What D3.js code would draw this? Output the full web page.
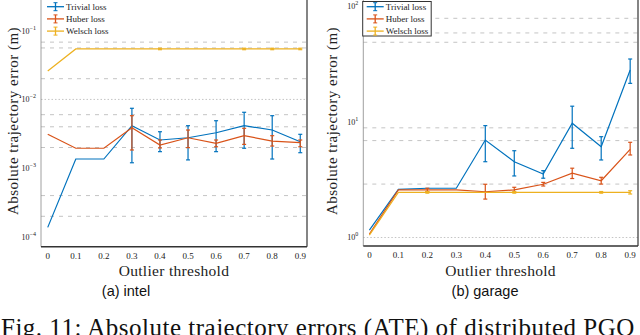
<!DOCTYPE html>
<html>
<head>
<meta charset="utf-8">
<script src="https://cdn.jsdelivr.net/npm/d3@7"></script>
<style>
  body { margin: 0; background: #fff; }
  svg { display: block; }
</style>
</head>
<body>
<svg id="chart" width="640" height="335"></svg>
<script>
// outlier thresholds on the x axis
var thresholds = [0, 0.1, 0.2, 0.3, 0.4, 0.5, 0.6, 0.7, 0.8, 0.9];
var xTickLabels = ["0", "0.1", "0.2", "0.3", "0.4", "0.5", "0.6", "0.7", "0.8", "0.9"];
var seriesNames = ["Trivial loss", "Huber loss", "Welsch loss"];
var seriesColors = ["#0072BD", "#D95319", "#EDB120"];

var SERIF = '"Liberation Serif", "DejaVu Serif", "Times New Roman", serif';

// (a) intel  -- mean, upper, lower (null = no error bar)
var intelTrivial   = [1.38e-4, 1.36e-3, 1.36e-3, 4.15e-3, 2.57e-3, 2.77e-3, 3.28e-3, 4.15e-3, 3.59e-3, 2.43e-3];
var intelTrivialHi = [null, null, null, 7.43e-3, 3.39e-3, 4.15e-3, 4.9e-3, 6.5e-3, 5.8e-3, 3.11e-3];
var intelTrivialLo = [null, null, null, 1.2e-3, 1.74e-3, 1.32e-3, 1.74e-3, 1.95e-3, 1.36e-3, 1.68e-3];
var intelHuber     = [3.11e-3, 1.95e-3, 1.95e-3, 3.88e-3, 2.17e-3, 2.77e-3, 2.3e-3, 2.97e-3, 2.48e-3, 2.35e-3];
var intelHuberHi   = [null, null, null, 5.8e-3, 2.57e-3, 3.59e-3, 2.57e-3, 3.8e-3, 2.97e-3, 2.57e-3];
var intelHuberLo   = [null, null, null, 1.84e-3, 1.97e-3, 1.99e-3, 2.05e-3, 2.22e-3, 2.1e-3, 2.05e-3];
var intelWelsch    = [2.59e-2, 5.41e-2, 5.41e-2, 5.41e-2, 5.41e-2, 5.41e-2, 5.41e-2, 5.41e-2, 5.41e-2, 5.41e-2];
var intelWelschHi  = [null, null, null, null, 5.55e-2, null, null, 5.55e-2, 5.55e-2, 5.55e-2];
var intelWelschLo  = [null, null, null, null, 5.28e-2, null, null, 5.28e-2, 5.28e-2, 5.28e-2];

// (b) garage
var garageTrivial   = [1.16, 2.61, 2.67, 2.67, 6.98, 4.53, 3.55, 9.75, 6.11, 28.2];
var garageTrivialHi = [null, null, null, null, 9.3, 5.64, 3.79, 13.7, 7.46, 35.1];
var garageTrivialLo = [null, null, null, null, 4.53, 3.41, 3.26, 5.92, 4.69, 21.6];
var garageHuber     = [1.07, 2.58, 2.58, 2.58, 2.49, 2.58, 2.89, 3.6, 3.1, 5.8];
var garageHuberHi   = [null, null, 2.67, null, 2.89, 2.72, 3.0, 3.98, 3.32, 6.67];
var garageHuberLo   = [null, null, 2.5, null, 2.15, 2.46, 2.79, 3.24, 2.9, 5.18];
var garageWelsch    = [1.05, 2.46, 2.46, 2.46, 2.46, 2.46, 2.46, 2.46, 2.46, 2.46];
var garageWelschHi  = [null, null, 2.5, null, null, 2.5, null, null, 2.5, 2.54];
var garageWelschLo  = [null, null, 2.42, null, null, 2.42, null, null, 2.42, 2.38];

// y ticks and minor grid values
var intelDecades = [1e-4, 1e-3, 1e-2, 1e-1];
var intelDecadeLabels = ["\u22124", "\u22123", "\u22122", "\u22121"];
var intelGrid = [2e-4, 4e-4, 2e-3, 4e-3, 6e-3, 1e-2, 2e-2, 5.6e-2, 6.8e-2];
var garageDecades = [1, 10, 100];
var garageDecadeLabels = ["0", "1", "2"];
var garageGrid = [1, 2.9, 6.9, 8.9, 49, 59, 79];

var svg = d3.select('#chart');

function drawPanel(p) {
    var x = d3.scaleLinear().domain(p.xDomain).range(p.xRange);
    var y = d3.scaleLog().domain(p.yDomain).range([p.bottom, 0]);
    var g = svg.append('g');

    // grid
    g.selectAll('.grid').data(p.grid).enter().append('line')
        .attr('x1', p.xRange[0]).attr('x2', p.xRange[1])
        .attr('y1', function (d) { return y(d) }).attr('y2', function (d) { return y(d) })
        .attr('stroke', '#c4c4c4').attr('stroke-width', 1)
        .attr('stroke-dasharray', function (d) { return p.decades.indexOf(d) >= 0 ? '1.5,2' : '4,5' });

    // axes lines
    g.append('line').attr('x1', p.xRange[0]).attr('x2', p.xRange[0]).attr('y1', 0).attr('y2', p.bottom)
        .attr('stroke', '#888').attr('stroke-width', 0.8);
    g.append('line').attr('x1', p.xRange[1]).attr('x2', p.xRange[1]).attr('y1', 0).attr('y2', p.bottom)
        .attr('stroke', '#333').attr('stroke-width', 1.2);
    g.append('line').attr('x1', p.xRange[0]).attr('x2', p.xRange[1]).attr('y1', p.bottom).attr('y2', p.bottom)
        .attr('stroke', '#333').attr('stroke-width', 1.6);

    // x tick labels
    g.selectAll('.xt').data(thresholds).enter().append('text')
        .style('font-family', SERIF)
        .attr('x', function (d) { return x(d) })
        .attr('y', p.bottom + 12)
        .attr('text-anchor', 'middle')
        .style('font-size', '9px').attr('fill', '#222')
        .text(function (d, i) { return xTickLabels[i] });

    // y tick labels 10^n
    var yt = g.selectAll('.yt').data(p.decades).enter().append('text')
        .style('font-family', SERIF)
        .attr('x', p.xRange[0] - 5)
        .attr('y', function (d) { return y(d) + 3 })
        .attr('text-anchor', 'end')
        .attr('fill', '#222');
    yt.append('tspan').style('font-size', '8px').text('10');
    yt.append('tspan').style('font-size', '6px').attr('dy', -4)
        .text(function (d, i) { return p.decadeLabels[i] });

    // series
    p.series.forEach(function (s, si) {
        var pts = thresholds.map(function (t, i) {
            return {x: t, v: s.mean[i], hi: s.hi[i], lo: s.lo[i]}
        });
        var line = d3.line().x(function (d) { return x(d.x) }).y(function (d) { return y(d.v) });
        g.append('path').datum(pts)
            .attr('d', line).attr('fill', 'none')
            .attr('stroke', seriesColors[si]).attr('stroke-width', 1.2);

        var eb = g.selectAll('.eb' + si).data(pts.filter(function (d) { return d.hi !== null }))
            .enter().append('g').attr('stroke', seriesColors[si]).attr('stroke-width', 1.2);
        eb.append('line')
            .attr('x1', function (d) { return x(d.x) }).attr('x2', function (d) { return x(d.x) })
            .attr('y1', function (d) { return y(d.hi) }).attr('y2', function (d) { return y(d.lo) });
        eb.append('line')
            .attr('x1', function (d) { return x(d.x) - 2 }).attr('x2', function (d) { return x(d.x) + 2 })
            .attr('y1', function (d) { return y(d.hi) }).attr('y2', function (d) { return y(d.hi) });
        eb.append('line')
            .attr('x1', function (d) { return x(d.x) - 2 }).attr('x2', function (d) { return x(d.x) + 2 })
            .attr('y1', function (d) { return y(d.lo) }).attr('y2', function (d) { return y(d.lo) });
    });

    // legend
    var lg = g.append('g').attr('transform', 'translate(' + p.legendX + ',0)');
    lg.append('rect').attr('x', 0).attr('y', 1.5).attr('width', p.legendW).attr('height', 34.5)
        .attr('fill', '#fff').attr('stroke', p.legendBorder ? '#333' : 'none').attr('stroke-width', 1);
    seriesNames.forEach(function (name, i) {
        var ly = 6.7 + i * 12.2;
        var c = seriesColors[i];
        lg.append('line').attr('x1', 4).attr('x2', 21).attr('y1', ly).attr('y2', ly)
            .attr('stroke', c).attr('stroke-width', 1.3);
        lg.append('line').attr('x1', 12.5).attr('x2', 12.5).attr('y1', ly - 4).attr('y2', ly + 4)
            .attr('stroke', c).attr('stroke-width', 1.3);
        lg.append('line').attr('x1', 10.5).attr('x2', 14.5).attr('y1', ly - 4).attr('y2', ly - 4)
            .attr('stroke', c).attr('stroke-width', 1);
        lg.append('line').attr('x1', 10.5).attr('x2', 14.5).attr('y1', ly + 4).attr('y2', ly + 4)
            .attr('stroke', c).attr('stroke-width', 1);
        lg.append('text').style('font-family', SERIF).attr('x', 23).attr('y', ly + 3)
            .style('font-size', '9px').attr('fill', '#222').text(name);
    });

    // axis titles
    g.append('text').style('font-family', SERIF)
        .attr('x', (p.xRange[0] + p.xRange[1]) / 2 + p.xTitleShift).attr('y', 276)
        .attr('text-anchor', 'middle').style('font-size', '15.5px').attr('fill', '#222')
        .style('letter-spacing', '0.3px')
        .text('Outlier threshold');
    g.append('text').style('font-family', SERIF)
        .attr('transform', 'translate(' + p.yTitleX + ',121) rotate(-90)')
        .attr('text-anchor', 'middle').style('font-size', '15px').attr('fill', '#222')
        .style('letter-spacing', '0.5px')
        .text('Absolute trajectory error (m)');

    // sub caption
    g.append('text').attr('x', p.captionX).attr('y', 296)
        .attr('text-anchor', 'middle')
        .style('font-family', '"Liberation Sans Narrow", "Liberation Sans", Arial, sans-serif').style('font-size', '14.5px')
        .attr('fill', '#111').text(p.caption);
}

drawPanel({
    xDomain: [-0.024, 0.924], xRange: [41, 307], bottom: 246.7,
    yDomain: [7.23e-5, 0.2786],
    decades: intelDecades, decadeLabels: intelDecadeLabels, grid: intelGrid,
    series: [
        {mean: intelTrivial, hi: intelTrivialHi, lo: intelTrivialLo},
        {mean: intelHuber, hi: intelHuberHi, lo: intelHuberLo},
        {mean: intelWelsch, hi: intelWelschHi, lo: intelWelschLo}
    ],
    legendX: 43, legendW: 72, legendBorder: false,
    xTitleShift: 0, yTitleX: 18, captionX: 126, caption: '(a) intel'
});

drawPanel({
    xDomain: [-0.021, 0.927], xRange: [363.3, 638], bottom: 246,
    yDomain: [0.844, 113.8],
    decades: garageDecades, decadeLabels: garageDecadeLabels, grid: garageGrid,
    series: [
        {mean: garageTrivial, hi: garageTrivialHi, lo: garageTrivialLo},
        {mean: garageHuber, hi: garageHuberHi, lo: garageHuberLo},
        {mean: garageWelsch, hi: garageWelschHi, lo: garageWelschLo}
    ],
    legendX: 362.7, legendW: 68.5, legendBorder: true,
    xTitleShift: 0, yTitleX: 337, captionX: 485, caption: '(b) garage'
});

// figure caption, cut at the bottom edge as in the source page
svg.append('text').style('font-family', SERIF)
    .attr('x', 1).attr('y', 336)
    .style('font-size', '25px').style('letter-spacing', '0.5px').attr('fill', '#111')
    .text('Fig. 11: Absolute trajectory errors (ATE) of distributed PGO');
</script>
</body>
</html>
